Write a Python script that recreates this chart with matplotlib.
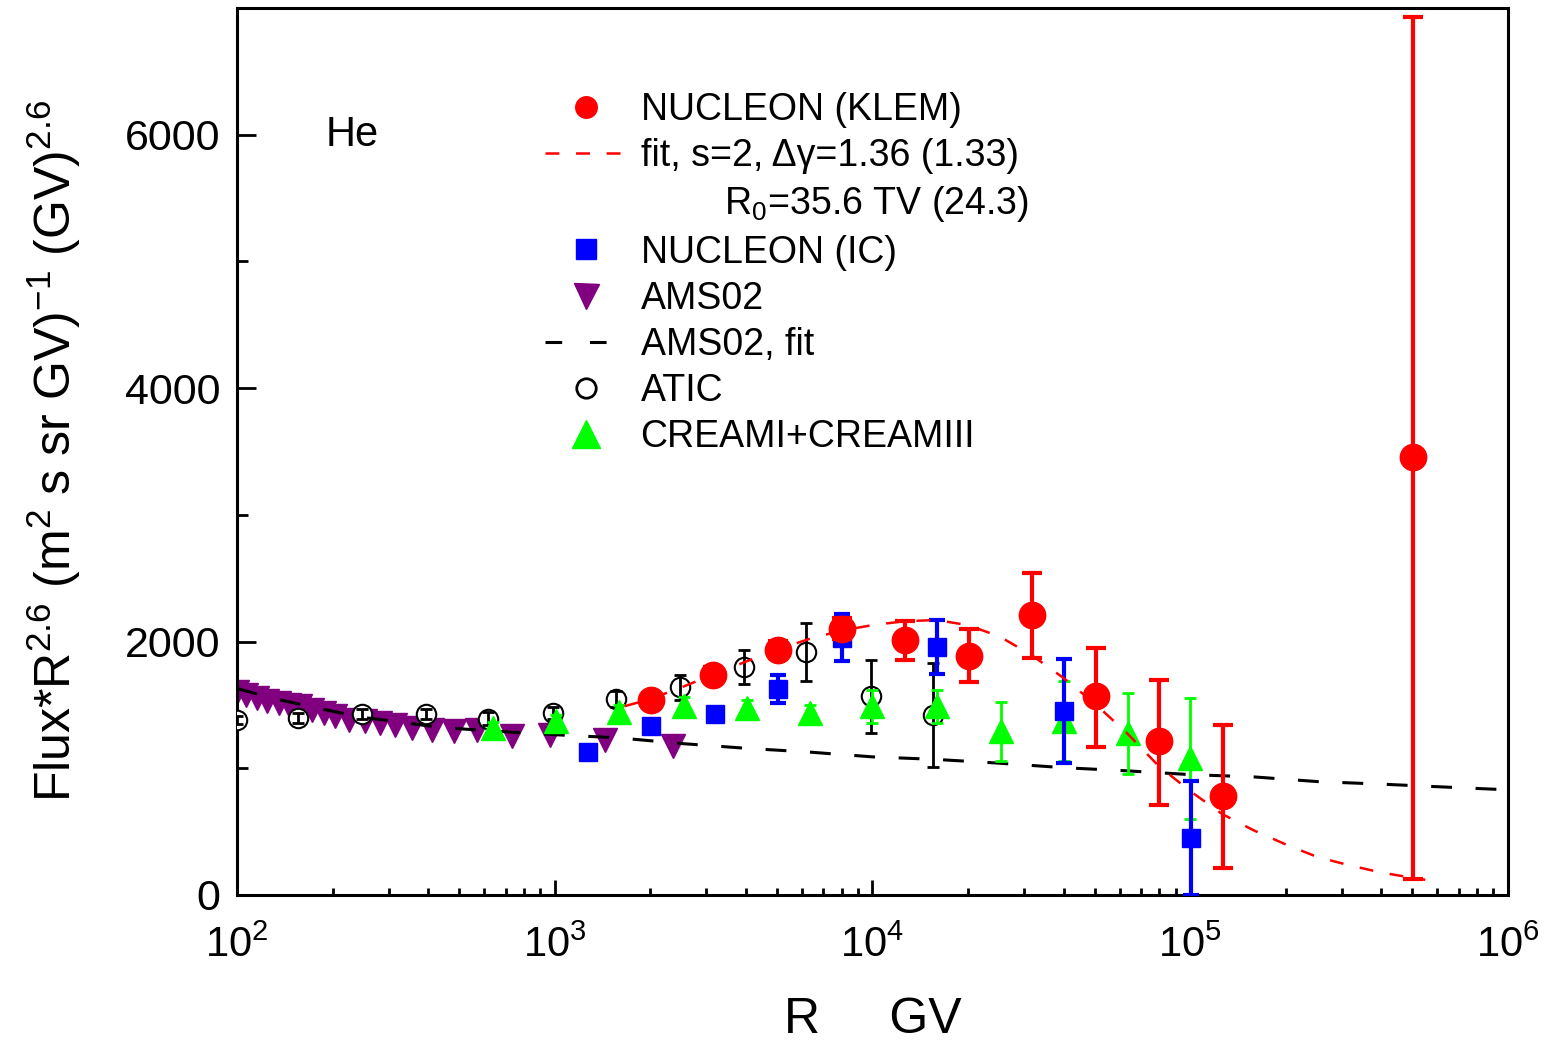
import matplotlib
matplotlib.use("Agg")
import matplotlib.pyplot as plt
from matplotlib.lines import Line2D
from matplotlib.ticker import LogLocator, FixedLocator, NullFormatter

plt.rcParams["font.family"] = ["Liberation Sans", "DejaVu Sans"]
plt.rcParams["mathtext.fontset"] = "custom"
plt.rcParams["mathtext.rm"] = "Liberation Sans"
plt.rcParams["mathtext.it"] = "Liberation Sans:italic"
plt.rcParams["lines.scale_dashes"] = False

# NUCLEON (KLEM)
klem_r = [2014, 3150, 5050, 8000, 12700, 20100, 31800, 50500, 80000, 127000, 502000]
klem_f = [1541, 1739, 1937, 2103, 2010, 1889, 2206, 1568, 1212, 783, 3455]
klem_lo = [50, 60, 70, 80, 155, 210, 335, 400, 505, 570, 3330]
klem_hi = [50, 60, 70, 80, 150, 210, 335, 380, 485, 555, 3470]

# fit to KLEM
fit_r = [1660, 1995, 2512, 3162, 3981, 5012, 6310, 7943, 10000, 12590, 15850,
         19950, 25120, 31620, 39810, 50120, 63100, 79430, 100000, 125900,
         158500, 199500, 251200, 316200, 398100, 501200, 549500]
fit_f = [1490, 1545, 1640, 1740, 1840, 1935, 2020, 2085, 2130, 2160, 2170,
         2130, 2040, 1895, 1715, 1510, 1280, 1020, 820, 640,
         510, 400, 300, 235, 178, 135, 120]

# NUCLEON (IC)
ic_r = [1274, 2014, 3200, 5050, 8000, 15950, 40200, 100300]
ic_f = [1132, 1334, 1428, 1626, 2029, 1958, 1449, 447]
ic_err = [30, 30, 30, 110, 185, 215, 410, 450]

# AMS02
ams_r = [100, 107, 116, 124, 136, 146, 158, 172, 188, 203, 225, 253, 282,
         314, 355, 410, 481, 569, 733, 964, 1435, 2350]
ams_f = [1605, 1581, 1555, 1528, 1515, 1502, 1489, 1462, 1436, 1410, 1383,
         1370, 1357, 1344, 1318, 1299, 1291, 1304, 1251, 1265, 1225, 1172]

# AMS02 fit
amsfit_r = [100, 126, 158, 200, 251, 316, 398, 501, 631, 794, 1000, 1585,
            2512, 3981, 6310, 10000, 15850, 25120, 39810, 63100, 100000,
            158500, 251200, 398100, 631000, 1000000]
amsfit_f = [1630, 1560, 1505, 1450, 1400, 1370, 1335, 1312, 1295, 1280, 1265,
            1240, 1195, 1158, 1128, 1090, 1070, 1040, 1005, 980, 950,
            932, 895, 875, 852, 830]

# ATIC
atic_r = [100, 156, 248, 393, 617, 984, 1563, 2485, 3940, 6200, 9860, 15500]
atic_f = [1383, 1397, 1428, 1431, 1391, 1436, 1547, 1640, 1799, 1915, 1568, 1423]
atic_err = [30, 40, 40, 40, 50, 50, 60, 100, 135, 230, 290, 410]

# CREAM I + CREAM III
cream_r = [640, 1012, 1592, 2546, 4030, 6380, 10000, 15950, 25300, 40200,
           63500, 100000]
cream_f = [1318, 1370, 1441, 1489, 1476, 1436, 1489, 1489, 1291, 1370, 1277, 1080]
cream_err = [50, 50, 60, 70, 60, 60, 130, 130, 230, 316, 320, 478]

RED, BLUE, PURPLE, GREEN = "#ff0000", "#0000ff", "#800080", "#00ff00"

fig = plt.figure(figsize=(15.45, 10.48), dpi=100)
ax = fig.add_axes([0.1534, 0.146, 0.8226, 0.8464])

ax.plot(ams_r, ams_f, "v", color=PURPLE, ms=17, zorder=2)
ax.plot(atic_r, atic_f, "o", mfc="white", mec="black", mew=1.5, ms=14, zorder=3)
ax.errorbar(atic_r, atic_f, yerr=atic_err, fmt="none", ecolor="black",
            elinewidth=2, capsize=4, capthick=2, zorder=3.5)
ax.plot(amsfit_r, amsfit_f, color="black", lw=2.2, ls=(0, (15, 17)), zorder=4)
ax.errorbar(cream_r, cream_f, yerr=cream_err, fmt="^", color=GREEN, ms=17,
            elinewidth=2, capsize=4, capthick=2, zorder=5)
ax.errorbar(ic_r, ic_f, yerr=ic_err, fmt="s", color=BLUE, ms=12.5,
            elinewidth=3, capsize=5.5, capthick=3, zorder=6)
ax.plot(fit_r, fit_f, color=RED, lw=1.8, ls=(0, (10, 12)), zorder=7)
ax.errorbar(klem_r, klem_f, yerr=[klem_lo, klem_hi], fmt="o", color=RED, ms=19,
            elinewidth=3, capsize=7, capthick=3, zorder=8)

ax.set_xscale("log")
ax.set_xlim(1e2, 1e6)
ax.set_ylim(0, 7000)
ax.xaxis.set_major_locator(LogLocator(base=10, numticks=10))
ax.xaxis.set_minor_locator(LogLocator(base=10, subs=range(2, 10), numticks=20))
ax.xaxis.set_minor_formatter(NullFormatter())
ax.yaxis.set_major_locator(FixedLocator([0, 2000, 4000, 6000]))
ax.yaxis.set_minor_locator(FixedLocator([1000, 3000, 5000, 7000]))

ax.tick_params(which="both", direction="in", top=False, right=False, width=2)
ax.tick_params(axis="y", which="major", length=14, labelsize=31, pad=12)
ax.tick_params(axis="y", which="minor", length=8)
ax.tick_params(axis="x", which="major", length=11, labelsize=30, pad=22)
ax.tick_params(axis="x", which="minor", length=5)
for s in ax.spines.values():
    s.set_linewidth(2.2)

ax.set_ylabel("Flux*R$^{2.6}$ (m$^2$ s sr GV)$^{-1}$ (GV)$^{2.6}$", fontsize=36,
              labelpad=30)
ax.set_xlabel("R     GV", fontsize=36, labelpad=22)
ax.text(0.07, 0.844, "He", transform=ax.transAxes, fontsize=30)

handles = [
    Line2D([], [], ls="none", marker="o", color=RED, ms=15.5),
    Line2D([], [], color=RED, lw=1.8, ls=(0, (10, 12))),
    Line2D([], [], ls="none"),
    Line2D([], [], ls="none", marker="s", color=BLUE, ms=15),
    Line2D([], [], ls="none", marker="v", color=PURPLE, ms=18),
    Line2D([], [], color="black", lw=2.2, ls=(0, (12, 20))),
    Line2D([], [], ls="none", marker="o", mfc="white", mec="black", mew=2, ms=14),
    Line2D([], [], ls="none", marker="^", color=GREEN, ms=20),
]
labels = [
    "NUCLEON (KLEM)",
    "fit, s=2, Δγ=1.36 (1.33)",
    "        R$_0$=35.6 TV (24.3)",
    "NUCLEON (IC)",
    "AMS02",
    "AMS02, fit",
    "ATIC",
    "CREAMI+CREAMIII",
]
ax.legend(handles, labels, loc="upper left", bbox_to_anchor=(0.2423, 0.905),
          frameon=False, fontsize=27, handlelength=2.2, handletextpad=0.35,
          labelspacing=0.27, borderpad=0, borderaxespad=0)

fig.savefig("out.png", dpi=100)
